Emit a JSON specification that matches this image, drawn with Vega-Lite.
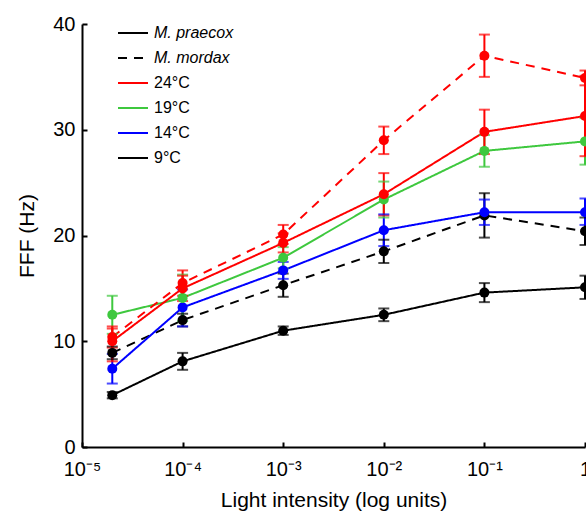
{
  "$schema": "https://vega.github.io/schema/vega-lite/v6.json",
  "width": 503,
  "height": 423,
  "autosize": {"type": "none"},
  "padding": {"left": 82, "top": 24, "right": 1, "bottom": 65},
  "config": {
    "view": {"stroke": null},
    "font": "Liberation Sans",
    "axis": {
      "grid": false,
      "domainColor": "black",
      "domainWidth": 2,
      "tickColor": "black",
      "tickWidth": 2,
      "tickSize": -5,
      "labelFontSize": 20,
      "labelColor": "black",
      "titleFontSize": 21,
      "titleFontWeight": "normal",
      "titleColor": "black"
    },
    "legend": {
      "orient": "none",
      "symbolType": "stroke",
      "symbolSize": 900,
      "symbolStrokeWidth": 2,
      "symbolStrokeColor": "black",
      "labelFontSize": 16,
      "labelColor": "black",
      "labelOffset": 5,
      "padding": 0,
      "rowPadding": 1,
      "title": null
    }
  },
  "data": {
    "values": [
      {"species": "M. praecox", "temp": "9°C", "x": 0.00002, "y": 4.9, "lo": 4.6, "hi": 5.2},
      {"species": "M. praecox", "temp": "9°C", "x": 0.0001, "y": 8.1, "lo": 7.3, "hi": 8.9},
      {"species": "M. praecox", "temp": "9°C", "x": 0.001, "y": 11.0, "lo": 10.6, "hi": 11.4},
      {"species": "M. praecox", "temp": "9°C", "x": 0.01, "y": 12.5, "lo": 11.9, "hi": 13.1},
      {"species": "M. praecox", "temp": "9°C", "x": 0.1, "y": 14.6, "lo": 13.7, "hi": 15.5},
      {"species": "M. praecox", "temp": "9°C", "x": 1, "y": 15.1, "lo": 14.0, "hi": 16.2},
      {"species": "M. mordax", "temp": "9°C", "x": 0.00002, "y": 8.9, "lo": 8.3, "hi": 9.5},
      {"species": "M. mordax", "temp": "9°C", "x": 0.0001, "y": 12.0, "lo": 11.4, "hi": 12.6},
      {"species": "M. mordax", "temp": "9°C", "x": 0.001, "y": 15.3, "lo": 14.2, "hi": 16.4},
      {"species": "M. mordax", "temp": "9°C", "x": 0.01, "y": 18.5, "lo": 17.4, "hi": 19.6},
      {"species": "M. mordax", "temp": "9°C", "x": 0.1, "y": 21.9, "lo": 19.8, "hi": 24.0},
      {"species": "M. mordax", "temp": "9°C", "x": 1, "y": 20.4, "lo": 19.1, "hi": 21.7},
      {"species": "M. praecox", "temp": "14°C", "x": 0.00002, "y": 7.4, "lo": 6.0, "hi": 8.8},
      {"species": "M. praecox", "temp": "14°C", "x": 0.0001, "y": 13.2, "lo": 11.4, "hi": 14.9},
      {"species": "M. praecox", "temp": "14°C", "x": 0.001, "y": 16.7, "lo": 15.9, "hi": 17.5},
      {"species": "M. praecox", "temp": "14°C", "x": 0.01, "y": 20.5, "lo": 19.0, "hi": 22.0},
      {"species": "M. praecox", "temp": "14°C", "x": 0.1, "y": 22.2, "lo": 21.0, "hi": 23.4},
      {"species": "M. praecox", "temp": "14°C", "x": 1, "y": 22.2, "lo": 21.0, "hi": 23.5},
      {"species": "M. praecox", "temp": "19°C", "x": 0.00002, "y": 12.5, "lo": 10.7, "hi": 14.3},
      {"species": "M. praecox", "temp": "19°C", "x": 0.0001, "y": 14.1, "lo": 11.9, "hi": 16.3},
      {"species": "M. praecox", "temp": "19°C", "x": 0.001, "y": 17.9, "lo": 16.9, "hi": 18.9},
      {"species": "M. praecox", "temp": "19°C", "x": 0.01, "y": 23.4, "lo": 21.7, "hi": 25.1},
      {"species": "M. praecox", "temp": "19°C", "x": 0.1, "y": 28.0, "lo": 26.5, "hi": 29.5},
      {"species": "M. praecox", "temp": "19°C", "x": 1, "y": 28.9, "lo": 26.7, "hi": 31.1},
      {"species": "M. praecox", "temp": "24°C", "x": 0.00002, "y": 10.0, "lo": 8.1, "hi": 11.2},
      {"species": "M. praecox", "temp": "24°C", "x": 0.0001, "y": 15.0, "lo": 13.8, "hi": 16.2},
      {"species": "M. praecox", "temp": "24°C", "x": 0.001, "y": 19.3, "lo": 18.4, "hi": 20.2},
      {"species": "M. praecox", "temp": "24°C", "x": 0.01, "y": 23.9, "lo": 21.9, "hi": 25.9},
      {"species": "M. praecox", "temp": "24°C", "x": 0.1, "y": 29.8, "lo": 27.7, "hi": 31.9},
      {"species": "M. praecox", "temp": "24°C", "x": 1, "y": 31.3, "lo": 27.5, "hi": 35.1},
      {"species": "M. mordax", "temp": "24°C", "x": 0.00002, "y": 10.4, "lo": 9.4, "hi": 11.4},
      {"species": "M. mordax", "temp": "24°C", "x": 0.0001, "y": 15.5, "lo": 14.3, "hi": 16.7},
      {"species": "M. mordax", "temp": "24°C", "x": 0.001, "y": 20.1, "lo": 19.2, "hi": 21.0},
      {"species": "M. mordax", "temp": "24°C", "x": 0.01, "y": 29.0, "lo": 27.7, "hi": 30.3},
      {"species": "M. mordax", "temp": "24°C", "x": 0.1, "y": 37.0, "lo": 35.0, "hi": 39.0},
      {"species": "M. mordax", "temp": "24°C", "x": 1, "y": 34.9, "lo": 34.2, "hi": 35.6}
    ]
  },
  "encoding": {
    "x": {
      "field": "x",
      "type": "quantitative",
      "scale": {"type": "log", "domain": [0.00001, 1], "nice": false},
      "axis": {
        "title": "Light intensity (log units)",
        "values": [0.00001, 0.0001, 0.001, 0.01, 0.1, 1],
        "labelExpr": "datum.value >= 0.5 ? '1' : datum.value >= 0.05 ? '10⁻¹' : datum.value >= 0.005 ? '10⁻²' : datum.value >= 0.0005 ? '10⁻³' : datum.value >= 0.00005 ? '10⁻⁴' : '10⁻⁵'",
        "labelPadding": 17,
        "titlePadding": 10,
        "labelFlush": false,
        "labelOverlap": false
      }
    },
    "color": {
      "field": "temp",
      "type": "nominal",
      "scale": {"domain": ["24°C", "19°C", "14°C", "9°C"], "range": ["#ff0000", "#3ec83e", "#0000ff", "#000000"]},
      "legend": null
    }
  },
  "layer": [
    {
      "mark": {"type": "line", "strokeWidth": 2},
      "encoding": {
        "y": {
          "field": "y",
          "type": "quantitative",
          "scale": {"domain": [0, 40], "nice": false},
          "axis": {"title": "FFF (Hz)", "values": [0, 10, 20, 30, 40], "labelPadding": 12, "titlePadding": 15}
        },
        "color": {
          "field": "temp",
          "type": "nominal",
          "scale": {"domain": ["24°C", "19°C", "14°C", "9°C"], "range": ["#ff0000", "#3ec83e", "#0000ff", "#000000"]},
          "legend": {"legendX": 35, "legendY": 43, "symbolStrokeColor": null}
        },
        "strokeDash": {
          "field": "species",
          "type": "nominal",
          "scale": {"domain": ["M. praecox", "M. mordax"], "range": [[1, 0], [9, 7]]},
          "legend": {"legendX": 35, "legendY": -7, "labelFontStyle": "italic", "symbolStrokeColor": "black"}
        },
        "order": {"field": "x", "type": "quantitative"}
      }
    },
    {
      "mark": {"type": "rule", "strokeWidth": 2},
      "encoding": {
        "y": {"field": "lo", "type": "quantitative"},
        "y2": {"field": "hi"}
      }
    },
    {
      "mark": {"type": "tick", "orient": "horizontal", "size": 11, "thickness": 2},
      "encoding": {"y": {"field": "lo", "type": "quantitative"}}
    },
    {
      "mark": {"type": "tick", "orient": "horizontal", "size": 11, "thickness": 2},
      "encoding": {"y": {"field": "hi", "type": "quantitative"}}
    },
    {
      "mark": {"type": "point", "filled": true, "opacity": 1, "size": 100},
      "encoding": {"y": {"field": "y", "type": "quantitative"}}
    }
  ]
}
